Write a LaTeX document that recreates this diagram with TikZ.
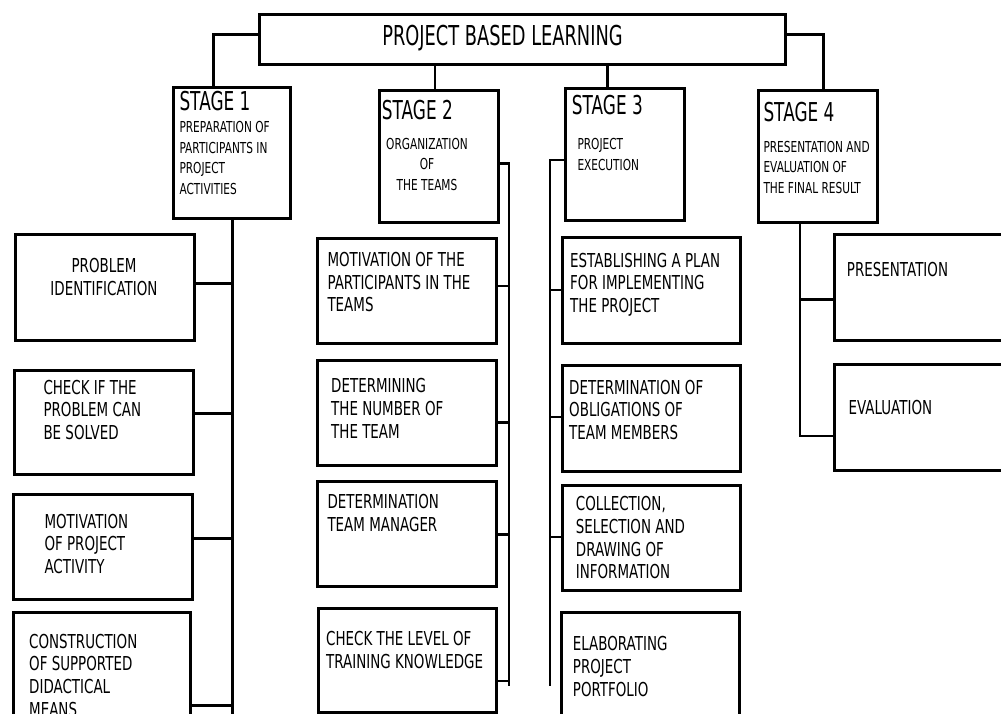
\documentclass[tikz,border=0pt]{standalone}
\usepackage{fontspec}
\setmainfont{DejaVu Sans}
\newfontfamily\fsm[FakeStretch=0.70]{DejaVu Sans}
\newfontfamily\fbig[FakeStretch=0.65]{DejaVu Sans}
\tikzset{
  box/.style={draw, line width=2.8pt, inner sep=0pt, anchor=north west},
  conn/.style={line width=2.8pt},
  txt/.style={inner sep=0pt, anchor=base west, align=left, font=\fsm\fontsize{19.2}{22.6}\selectfont},
  stxt/.style={inner sep=0pt, anchor=base west, align=left, font=\fsm\fontsize{15.1}{20.4}\selectfont},
  ttl/.style={inner sep=0pt, anchor=base west, font=\fbig\fontsize{26}{30}\selectfont},
}
\begin{document}
\begin{tikzpicture}[x=1pt,y=-1pt]
\useasboundingbox (0,0) rectangle (1001,713);
\clip (0,0) rectangle (1001,713);
% boxes
\node[box, minimum width=526.3pt, minimum height=50pt] (main) at (257.7,12.7) {};
\node[box, minimum width=117.3pt, minimum height=131.3pt] (s1) at (172,86) {};
\node[box, minimum width=118.4pt, minimum height=131.4pt] (s2) at (378.3,89.3) {};
\node[box, minimum width=118.4pt, minimum height=131.7pt] (s3) at (564.3,87.3) {};
\node[box, minimum width=119pt, minimum height=131.7pt] (s4) at (756.7,89.3) {};
\node[box, minimum width=178.7pt, minimum height=106pt] (b11) at (14,233.3) {};
\node[box, minimum width=179pt, minimum height=104.6pt] (b12) at (12.7,368.7) {};
\node[box, minimum width=178.7pt, minimum height=105pt] (b13) at (12,492.7) {};
\node[box, minimum width=177.6pt, minimum height=110pt] (b14) at (11.7,611) {};
\node[box, minimum width=179pt, minimum height=105pt] (b21) at (316,237.3) {};
\node[box, minimum width=179pt, minimum height=105pt] (b22) at (316,359.3) {};
\node[box, minimum width=179pt, minimum height=105.3pt] (b23) at (316,480) {};
\node[box, minimum width=178.3pt, minimum height=104pt] (b24) at (316.7,606.7) {};
\node[box, minimum width=178.6pt, minimum height=105.7pt] (b31) at (560.7,236) {};
\node[box, minimum width=178.6pt, minimum height=105.7pt] (b32) at (560.7,364.3) {};
\node[box, minimum width=178.6pt, minimum height=105.6pt] (b33) at (560.7,483.7) {};
\node[box, minimum width=178.3pt, minimum height=110pt] (b34) at (560,611) {};
\node[box, minimum width=180pt, minimum height=106pt] (b41) at (833.3,233.3) {};
\node[box, minimum width=180pt, minimum height=105.4pt] (b42) at (833.3,363.3) {};
% top connectors
\coordinate (c1) at (213.3,34.3);
\coordinate (c2) at (435,0);
\coordinate (c3) at (607.3,0);
\coordinate (c4) at (823.3,34.3);
\draw[conn] (c1 -| main.west) -- (c1) -- (c1 |- s1.north);
\draw[conn] (main.south -| c2) -- (s2.north -| c2);
\draw[conn] (main.south -| c3) -- (s3.north -| c3);
\draw[conn] (c4 -| main.east) -- (c4) -- (c4 |- s4.north);
% column 1
\coordinate (v1) at (232.3,716);
\draw[conn] (s1.south -| v1) -- (v1);
\coordinate (j11) at (232.3,283.3);
\coordinate (j12) at (232.3,413.3);
\coordinate (j13) at (232.3,538.7);
\coordinate (j14) at (232.3,705.3);
\draw[conn] (j11 -| b11.east) -- (j11);
\draw[conn] (j12 -| b12.east) -- (j12);
\draw[conn] (j13 -| b13.east) -- (j13);
\draw[conn] (j14 -| b14.east) -- (j14);
% column 2
\coordinate (v2t) at (509,163.3);
\coordinate (v2b) at (509,686);
\draw[conn] (v2t -| s2.east) -- (v2t) -- (v2b);
\coordinate (j21) at (509,286);
\coordinate (j22) at (509,422.7);
\coordinate (j23) at (509,534.3);
\coordinate (j24) at (509,681);
\draw[conn] (j21 -| b21.east) -- (j21);
\draw[conn] (j22 -| b22.east) -- (j22);
\draw[conn] (j23 -| b23.east) -- (j23);
\draw[conn] (j24 -| b24.east) -- (j24);
% column 3
\coordinate (v3t) at (550,160);
\coordinate (v3b) at (550,686);
\draw[conn] (v3t -| s3.west) -- (v3t) -- (v3b);
\coordinate (j31) at (550,290);
\coordinate (j32) at (550,417);
\coordinate (j33) at (550,537);
\draw[conn] (j31) -- (j31 -| b31.west);
\draw[conn] (j32) -- (j32 -| b32.west);
\draw[conn] (j33) -- (j33 -| b33.west);
% column 4
\coordinate (v4b) at (800,436);
\draw[conn] (s4.south -| v4b) -- (v4b) -- (v4b -| b42.west);
\coordinate (j41) at (800,299.3);
\draw[conn] (j41) -- (j41 -| b41.west);
% texts (multi-line nodes: base = last line's baseline)
\node[inner sep=0pt, anchor=base, font=\fbig\fontsize{27.4}{30}\selectfont] (tmain) at (502.5,45) {PROJECT BASED LEARNING};
\node[ttl] (t1) at (179.3,110.7) {STAGE 1};
\node[ttl] (t2) at (381.7,119) {STAGE 2};
\node[ttl] (t3) at (571.7,114.3) {STAGE 3};
\node[ttl] (t4) at (763.3,121.7) {STAGE 4};
\node[stxt] (st1) at (179.3,194) {PREPARATION OF\\PARTICIPANTS IN\\PROJECT\\ACTIVITIES};
\node[stxt, align=center, anchor=base] (st2) at (427,190) {ORGANIZATION\\OF\\THE TEAMS};
\node[stxt] (st3) at (577.3,170) {PROJECT\\EXECUTION};
\node[stxt] (st4) at (763.3,193.3) {PRESENTATION AND\\EVALUATION OF\\THE FINAL RESULT};
\node[txt, align=center, anchor=base] (x11) at (104,295) {PROBLEM\\IDENTIFICATION};
\node[txt] (x12) at (43.3,439.3) {CHECK IF THE\\PROBLEM CAN\\BE SOLVED};
\node[txt] (x13) at (44.3,573.3) {MOTIVATION\\OF PROJECT\\ACTIVITY};
\node[txt] (x14) at (29,716) {CONSTRUCTION\\OF SUPPORTED\\DIDACTICAL\\MEANS};
\node[txt] (x21) at (327.3,311.7) {MOTIVATION OF THE\\PARTICIPANTS IN THE\\TEAMS};
\node[txt] (x22) at (331,438) {DETERMINING\\THE NUMBER OF\\THE TEAM};
\node[txt] (x23) at (327.3,531) {DETERMINATION\\TEAM MANAGER};
\node[txt] (x24) at (326,668.3) {CHECK THE LEVEL OF\\TRAINING KNOWLEDGE};
\node[txt] (x31) at (570,312.3) {ESTABLISHING A PLAN\\FOR IMPLEMENTING\\THE PROJECT};
\node[txt] (x32) at (569,439.3) {DETERMINATION OF\\OBLIGATIONS OF\\TEAM MEMBERS};
\node[txt] (x33) at (575.7,578.7) {COLLECTION,\\SELECTION AND\\DRAWING OF\\INFORMATION};
\node[txt] (x34) at (572.7,696) {ELABORATING\\PROJECT\\PORTFOLIO};
\node[txt] (x41) at (846.7,276.7) {PRESENTATION};
\node[txt] (x42) at (848.3,414.3) {EVALUATION};
\end{tikzpicture}
\end{document}
